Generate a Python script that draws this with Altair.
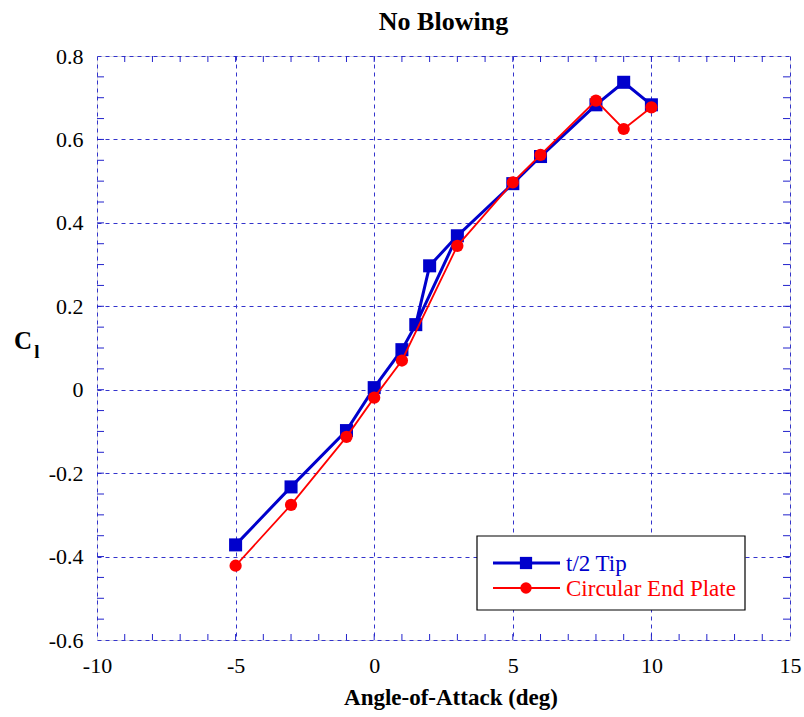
import altair as alt
import pandas as pd

# ---------------- data ----------------
# t/2 Tip (blue squares); path revisits 1.5 -> 3 as in the original plot
blue_alpha = [-5, -3, -1, 0, 1, 1.5, 2, 3, 5, 6, 8, 9, 10]
blue_cl = [-0.372, -0.233, -0.098, 0.005, 0.096, 0.156, 0.297, 0.369,
           0.494, 0.559, 0.683, 0.737, 0.683]
blue_path_index = [0, 1, 2, 3, 4, 5, 6, 7, 5, 7, 8, 9, 10, 11, 12]

# Circular End Plate (red circles)
red_alpha = [-5, -3, -1, 0, 1, 3, 5, 6, 8, 9, 10]
red_cl = [-0.422, -0.276, -0.113, -0.019, 0.070, 0.345, 0.497, 0.563,
          0.693, 0.625, 0.677]

x_ticks = [-10, -5, 0, 5, 10, 15]
y_ticks = [-0.6, -0.4, -0.2, 0, 0.2, 0.4, 0.6, 0.8]
x_minor = list(range(-9, 15))
y_minor = [round(-0.55 + 0.05 * i, 2) for i in range(27)]

series_names = ["t/2 Tip", "Circular End Plate"]

W, H = 693, 584
FONT = "Liberation Serif"
BLUE = "#0000CC"
RED = "#FF0000"

blue_pts = pd.DataFrame({"alpha": blue_alpha, "cl": blue_cl})
blue_path = pd.DataFrame({
    "seq": list(range(len(blue_path_index))),
    "alpha": [blue_alpha[i] for i in blue_path_index],
    "cl": [blue_cl[i] for i in blue_path_index],
})
red_df = pd.DataFrame({"alpha": red_alpha, "cl": red_cl, "seq": list(range(len(red_alpha)))})

xs = alt.Scale(domain=[-10, 15], nice=False, zero=False)
ys = alt.Scale(domain=[-0.6, 0.8], nice=False, zero=False)

xaxis = alt.Axis(values=x_ticks, title=None, labelFont=FONT, labelFontSize=22,
                 labelColor="black", labelPadding=15, ticks=False, domain=False,
                 grid=True, gridColor="#3333CC", gridDash=[4, 4], gridWidth=1,
                 labelFlush=False, labelExpr="'' + datum.value")
yaxis = alt.Axis(values=y_ticks, title=None, labelFont=FONT, labelFontSize=22,
                 labelColor="black", labelPadding=14, ticks=False, domain=False,
                 grid=True, gridColor="#3333CC", gridDash=[4, 4], gridWidth=1,
                 labelFlush=False, labelExpr="'' + datum.value")

base = alt.Chart(blue_pts).encode(
    x=alt.X("alpha:Q", scale=xs, axis=xaxis),
    y=alt.Y("cl:Q", scale=ys, axis=yaxis),
)
grid_layer = base.mark_point(opacity=0)

blue_line = alt.Chart(blue_path).mark_line(color=BLUE, strokeWidth=3).encode(
    x=alt.X("alpha:Q", scale=xs), y=alt.Y("cl:Q", scale=ys), order="seq:Q")
blue_marks = alt.Chart(blue_pts).mark_point(shape="square", filled=True, size=170,
                                            color=BLUE, opacity=1).encode(
    x=alt.X("alpha:Q", scale=xs), y=alt.Y("cl:Q", scale=ys))

red_line = alt.Chart(red_df).mark_line(color=RED, strokeWidth=1.8).encode(
    x=alt.X("alpha:Q", scale=xs), y=alt.Y("cl:Q", scale=ys), order="seq:Q")
red_marks = alt.Chart(red_df).mark_point(shape="circle", filled=True, size=150,
                                         color=RED, opacity=1).encode(
    x=alt.X("alpha:Q", scale=xs), y=alt.Y("cl:Q", scale=ys))

# inward minor ticks
xt = pd.DataFrame({"alpha": x_minor})
yt = pd.DataFrame({"cl": y_minor})
tick_col = "#2222CC"
xt_top = alt.Chart(xt).mark_rule(color=tick_col, strokeWidth=1).encode(
    x=alt.X("alpha:Q", scale=xs), y=alt.value(0), y2=alt.value(6))
xt_bot = alt.Chart(xt).mark_rule(color=tick_col, strokeWidth=1).encode(
    x=alt.X("alpha:Q", scale=xs), y=alt.value(H), y2=alt.value(H - 6))
yt_left = alt.Chart(yt).mark_rule(color=tick_col, strokeWidth=1).encode(
    y=alt.Y("cl:Q", scale=ys), x=alt.value(0), x2=alt.value(7))
yt_right = alt.Chart(yt).mark_rule(color=tick_col, strokeWidth=1).encode(
    y=alt.Y("cl:Q", scale=ys), x=alt.value(W), x2=alt.value(W - 7))

# axis titles as text
one = pd.DataFrame({"k": [0]})
x_title = alt.Chart(one).mark_text(font=FONT, fontSize=23, fontWeight="bold",
                                   color="black", baseline="middle", align="center").encode(
    x=alt.value(354), y=alt.value(642), text=alt.value("Angle-of-Attack (deg)"))
y_title_c = alt.Chart(one).mark_text(font=FONT, fontSize=25, fontWeight="bold",
                                     color="black", baseline="middle", align="center").encode(
    x=alt.value(-74), y=alt.value(285), text=alt.value("C"))
y_title_l = alt.Chart(one).mark_text(font=FONT, fontSize=19, fontWeight="bold",
                                     color="black", baseline="middle", align="center").encode(
    x=alt.value(-60), y=alt.value(296), text=alt.value("l"))

# legend
leg_box = alt.Chart(one).mark_rect(fill="white", stroke="black", strokeWidth=1.2).encode(
    x=alt.value(380), x2=alt.value(648), y=alt.value(480), y2=alt.value(554))
leg_layers = [leg_box]
for i, (name, col, shape, sw, sz) in enumerate(
        [(series_names[0], BLUE, "square", 3, 150), (series_names[1], RED, "circle", 1.8, 130)]):
    yy = 507 + i * 25
    leg_layers.append(alt.Chart(one).mark_rule(color=col, strokeWidth=sw).encode(
        x=alt.value(396), x2=alt.value(463), y=alt.value(yy)))
    leg_layers.append(alt.Chart(one).mark_point(shape=shape, filled=True, size=sz,
                                                color=col, opacity=1).encode(
        x=alt.value(429), y=alt.value(yy)))
    leg_layers.append(alt.Chart(one).mark_text(font=FONT, fontSize=23, color=col,
                                               align="left", baseline="middle").encode(
        x=alt.value(469), y=alt.value(yy + 1), text=alt.value(name)))

chart = alt.layer(
    grid_layer, xt_top, xt_bot, yt_left, yt_right,
    blue_line, blue_marks, red_line, red_marks,
    x_title, y_title_c, y_title_l, *leg_layers
).properties(
    width=W, height=H,
    title=alt.TitleParams("No Blowing", font=FONT, fontSize=26, fontWeight="bold",
                          color="black", anchor="middle", offset=10),
    autosize=alt.AutoSizeParams(type="none"),
    padding={"left": 97, "top": 56, "right": 14, "bottom": 77},
).configure_view(
    stroke="#1a1acc", strokeWidth=1.5
).configure(background="white")

chart.save("out.html", embed_options={"renderer": "svg", "actions": False})
